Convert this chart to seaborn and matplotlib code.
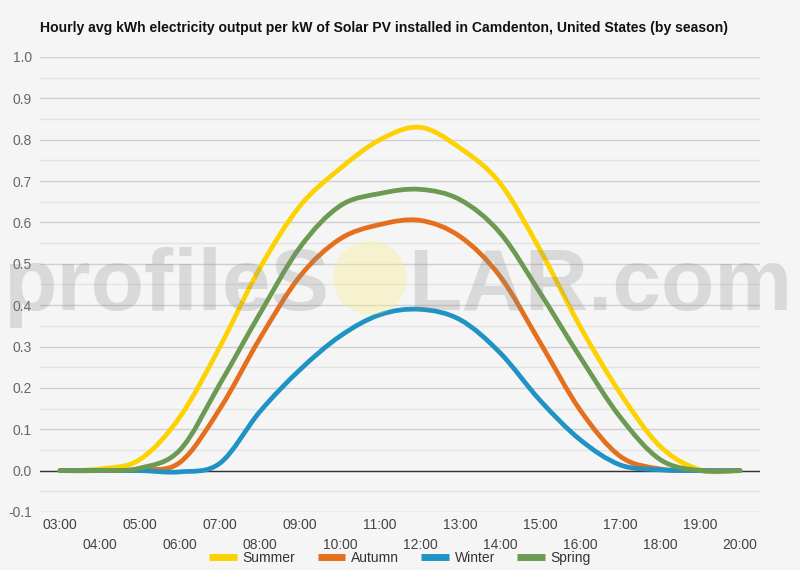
import numpy as np
import pandas as pd
import seaborn as sns
import matplotlib
matplotlib.use("Agg")
import matplotlib.pyplot as plt
from matplotlib.path import Path
from matplotlib.patches import PathPatch, Circle
from matplotlib.lines import Line2D

# hourly average kWh per kW installed
hours = list(range(3, 21))
hour_labels = [f"{h:02d}:00" for h in hours]
summer = [0.0, 0.004, 0.027, 0.13, 0.30, 0.49, 0.64, 0.73, 0.80, 0.83,
          0.78, 0.695, 0.534, 0.349, 0.188, 0.059, 0.002, 0.0]
autumn = [0.0, 0.0, 0.002, 0.02, 0.15, 0.32, 0.47, 0.56, 0.595, 0.605,
          0.566, 0.47, 0.31, 0.147, 0.035, 0.004, 0.0, 0.0]
winter = [0.0, 0.0, 0.0, -0.003, 0.018, 0.143, 0.244, 0.325, 0.377, 0.39,
          0.365, 0.285, 0.17, 0.075, 0.014, 0.002, 0.0, 0.0]
spring = [0.0, 0.0, 0.006, 0.05, 0.21, 0.38, 0.54, 0.64, 0.67, 0.68,
          0.655, 0.575, 0.43, 0.275, 0.13, 0.027, 0.0, 0.0]

seasons = ["Summer", "Autumn", "Winter", "Spring"]
colors = ["#fcd200", "#e4701e", "#1f93c3", "#6b9a52"]

df = pd.DataFrame({"hour": hours, "Summer": summer, "Autumn": autumn,
                   "Winter": winter, "Spring": spring})
long_df = df.melt(id_vars="hour", var_name="season", value_name="kwh")

sns.set_theme(style="white")
plt.rcParams["font.family"] = ["Liberation Sans", "DejaVu Sans"]
plt.rcParams["axes.unicode_minus"] = False

bg = "#f5f5f5"
fig = plt.figure(figsize=(8, 5.7), dpi=100, facecolor=bg)
ax = fig.add_axes([0.05, 0.1018, 0.90, 0.7982], facecolor=bg)


def smooth_path(x, y):
    # catmull-rom style bezier through the hourly points (like a spline chart)
    x = np.asarray(x, float)
    y = np.asarray(y, float)
    verts = [(x[0], y[0])]
    codes = [Path.MOVETO]
    n = len(x)
    for i in range(n - 1):
        x0, y0 = (x[i - 1], y[i - 1]) if i > 0 else (x[i], y[i])
        x3, y3 = (x[i + 2], y[i + 2]) if i + 2 < n else (x[i + 1], y[i + 1])
        c1 = (x[i] + (x[i + 1] - x0) / 6, y[i] + (y[i + 1] - y0) / 6)
        c2 = (x[i + 1] - (x3 - x[i]) / 6, y[i + 1] - (y3 - y[i]) / 6)
        verts += [c1, c2, (x[i + 1], y[i + 1])]
        codes += [Path.CURVE4] * 3
    return Path(verts, codes)


for season, color in zip(seasons, colors):
    sub = long_df[long_df["season"] == season]
    ax.add_patch(PathPatch(smooth_path(sub["hour"], sub["kwh"]), facecolor="none",
                           edgecolor=color, lw=3.4, capstyle="round", zorder=3))

ax.set_xlim(2.5, 20.5)
ax.set_ylim(-0.1, 1.0)

# y grid: labelled lines every 0.1, lighter lines in between
ax.set_yticks(np.round(np.arange(-0.1, 1.01, 0.1), 1))
ax.set_yticks(np.round(np.arange(-0.05, 1.0, 0.1), 2), minor=True)
ax.yaxis.grid(True, which="major", color="#cfcfcf", lw=1)
ax.yaxis.grid(True, which="minor", color="#e3e3e3", lw=1)
ax.xaxis.grid(False)
ax.axhline(0, color="#333333", lw=1, zorder=2)
ax.tick_params(axis="y", which="both", length=0, labelsize=10, labelcolor="#666666", pad=6)

# staggered hour labels: odd hours on the first row, even on the second
ax.set_xticks(hours[::2])
ax.set_xticklabels(hour_labels[::2])
ax.set_xticks(hours[1::2], minor=True)
ax.set_xticklabels(hour_labels[1::2], minor=True)
ax.tick_params(axis="x", which="major", length=0, labelsize=10, labelcolor="#444444", pad=4)
ax.tick_params(axis="x", which="minor", length=0, labelsize=10, labelcolor="#444444", pad=19)
for s in ax.spines.values():
    s.set_visible(False)

fig.text(0.05, 0.951, "Hourly avg kWh electricity output per kW of Solar PV installed in Camdenton, "
         "United States (by season)", fontsize=10.1, fontweight="bold", color="#111111",
         va="center", ha="left")

handles = [Line2D([], [], color=c, lw=5, solid_capstyle="butt") for c in colors]
fig.legend(handles, seasons, loc="center", bbox_to_anchor=(0.5, 0.021), ncol=4, frameon=False,
           fontsize=10, handlelength=2.0, handletextpad=0.4, columnspacing=1.6,
           labelcolor="#333333")

# watermark
fig.text(0.004, 1 - 310 / 570, "profileS", fontsize=63, fontweight="bold",
         color="#888888", alpha=0.25, ha="left", va="baseline", zorder=10)
fig.text(0.51, 1 - 310 / 570, "LAR.com", fontsize=63, fontweight="bold",
         color="#888888", alpha=0.25, ha="left", va="baseline", zorder=10)
fig.patches.append(Circle((370, 570 - 278), 37, transform=None, facecolor="#f8ef8a",
                          edgecolor="none", alpha=0.35, zorder=10))

fig.savefig("out.png", dpi=100, facecolor=bg)
